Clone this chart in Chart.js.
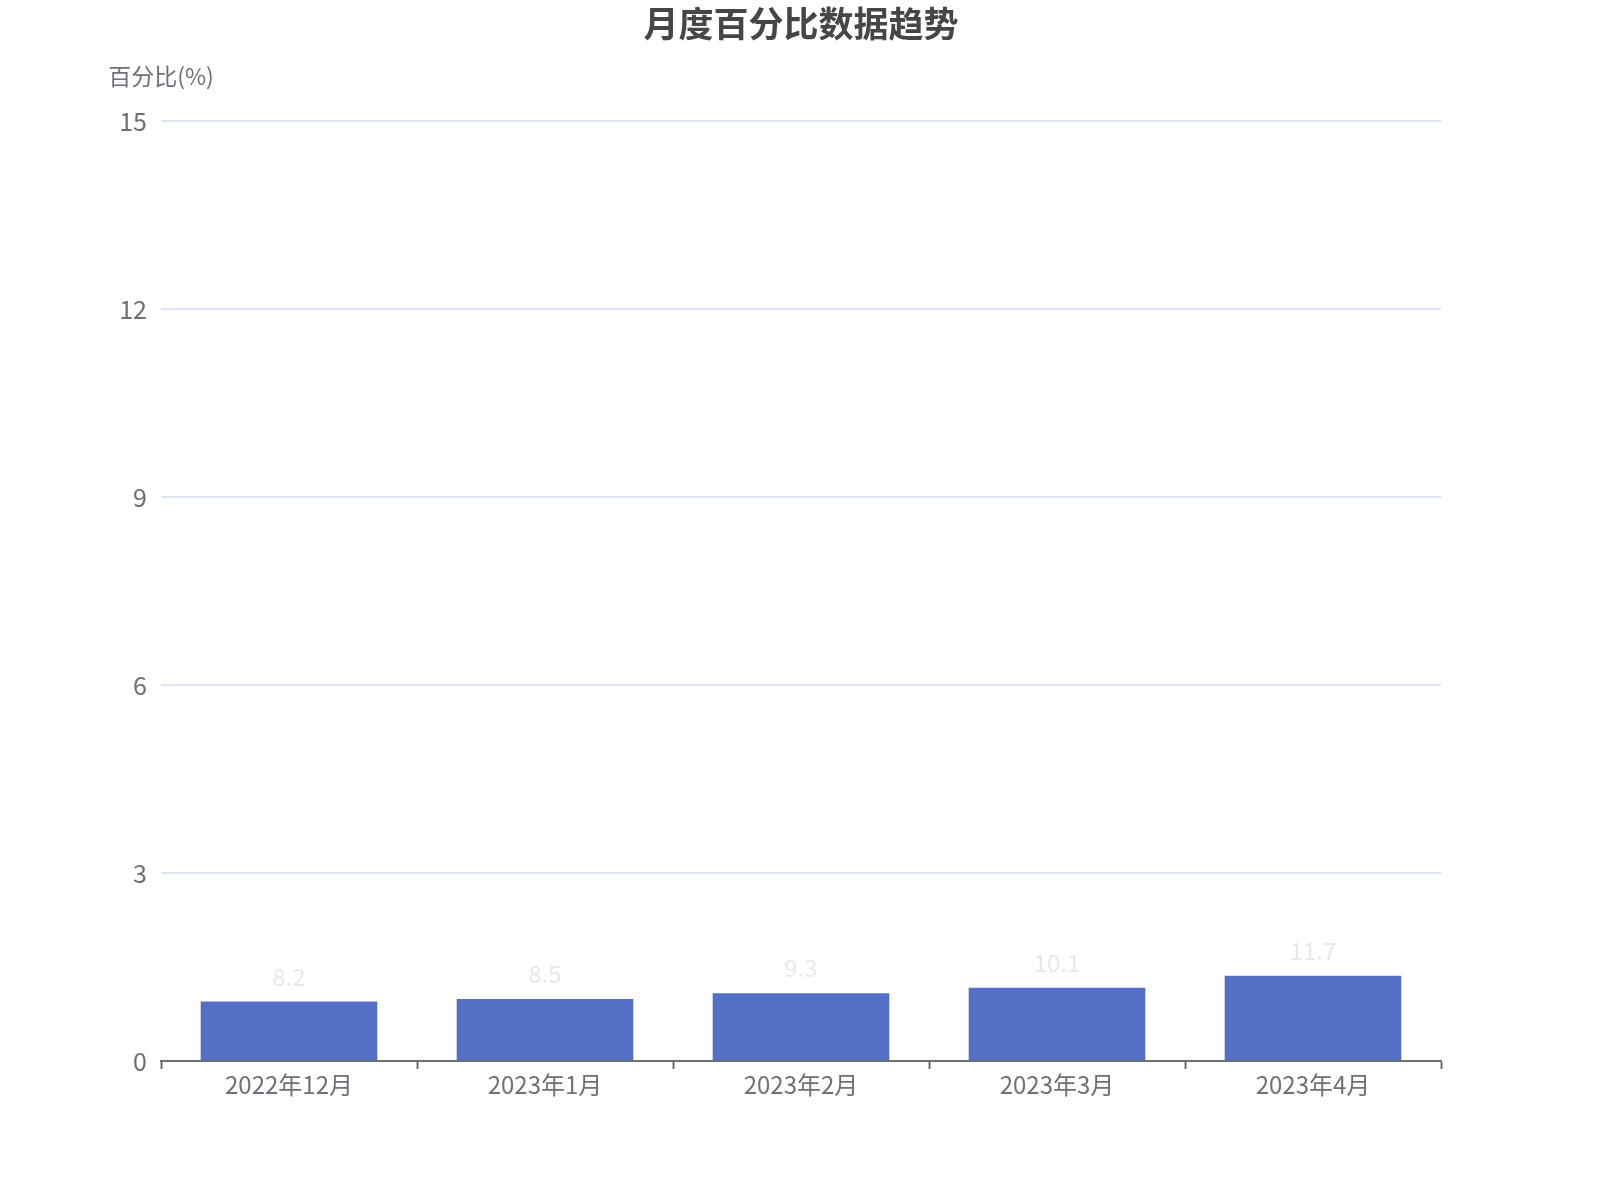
<!DOCTYPE html>
<html>
<head>
<meta charset="utf-8">
<script src="https://cdn.jsdelivr.net/npm/chart.js@4/dist/chart.umd.min.js"></script>
<style>
  html, body { margin: 0; padding: 0; background: #fff; }
  canvas { display: block; }
</style>
</head>
<body>
<canvas id="chart" width="1600" height="1200" style="width:1600px;height:1200px"></canvas>
<script>
// Chart data
const months = ['2022年12月', '2023年1月', '2023年2月', '2023年3月', '2023年4月'];
const barValues = [0.95, 0.99, 1.08, 1.17, 1.36]; // bar heights as drawn
const labelValues = ['8.2', '8.5', '9.3', '10.1', '11.7']; // text shown above bars
const yTicks = [0, 3, 6, 9, 12, 15];

const chartTitle = '月度百分比数据趋势';
const yAxisName = '百分比(%)';

const FONT = '"Noto Sans CJK SC", "Noto Sans", sans-serif';
const axisColor = '#6e7079';

// Title, y axis name and value labels
const extras = {
    id: 'extras',
    afterDatasetsDraw(chart) {
        const { ctx, chartArea } = chart;
        ctx.save();

        ctx.textAlign = 'center';
        ctx.textBaseline = 'middle';

        ctx.font = 'bold 35px ' + FONT;
        ctx.fillStyle = '#464646';
        ctx.fillText(chartTitle, (chartArea.left + chartArea.right) / 2, 24);

        ctx.font = '23px ' + FONT;
        ctx.fillStyle = axisColor;
        ctx.fillText(yAxisName, chartArea.left, 76);

        // value labels above bars
        ctx.font = '24px ' + FONT;
        ctx.fillStyle = '#e8e8e8';
        chart.getDatasetMeta(0).data.forEach((bar, i) => {
            ctx.fillText(labelValues[i], bar.x, bar.y - 25);
        });

        ctx.restore();
    }
};

new Chart(document.getElementById('chart'), {
    type: 'bar',
    data: {
        labels: months,
        datasets: [{
            data: barValues,
            backgroundColor: '#5470c6',
            borderWidth: 0,
            categoryPercentage: 1,
            barPercentage: 0.69
        }]
    },
    plugins: [extras],
    options: {
        responsive: false,
        animation: false,
        devicePixelRatio: 1,
        layout: {
            padding: { top: 121, right: 159, bottom: 89, left: 0 }
        },
        plugins: {
            legend: { display: false },
            title: { display: false },
            tooltip: { enabled: false }
        },
        scales: {
            x: {
                offset: true,
                grid: {
                    display: true,
                    offset: true,
                    drawOnChartArea: false,
                    drawTicks: true,
                    tickLength: 8,
                    tickWidth: 2,
                    color: axisColor
                },
                border: { display: true, color: axisColor, width: 2 },
                ticks: {
                    color: axisColor,
                    font: { family: FONT, size: 24 },
                    padding: 1,
                    maxRotation: 0
                },
                afterFit(scale) {
                    scale.height = 50;
                }
            },
            y: {
                min: 0,
                max: 15,
                afterBuildTicks(scale) {
                    scale.ticks = yTicks.map(v => ({ value: v }));
                },
                grid: {
                    color: '#e0e6f1',
                    lineWidth: 2,
                    drawTicks: false
                },
                border: { display: false },
                ticks: {
                    color: axisColor,
                    font: { family: FONT, size: 25 },
                    padding: 14
                },
                afterFit(scale) {
                    scale.width = 161;
                }
            }
        }
    }
});
</script>
</body>
</html>
